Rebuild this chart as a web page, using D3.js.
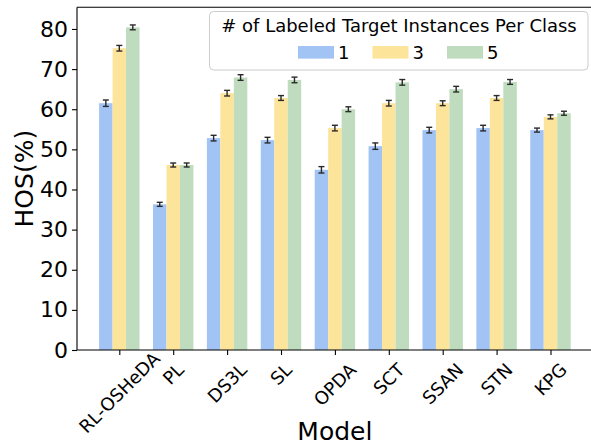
<!DOCTYPE html>
<html>
<head>
<meta charset="utf-8">
<script src="https://cdn.jsdelivr.net/npm/d3@7"></script>
<style>
  html, body { margin: 0; padding: 0; background: #ffffff; }
  svg { display: block; font-family: "DejaVu Sans", sans-serif; }
</style>
</head>
<body>
<svg id="chart" width="591" height="442"></svg>
<script>
// ---- data ----
const models = ["RL-OSHeDA", "PL", "DS3L", "SL", "OPDA", "SCT", "SSAN", "STN", "KPG"];
const seriesNames = ["1", "3", "5"];
const values1 = [61.5, 36.3, 52.8, 52.3, 44.9, 50.8, 54.8, 55.3, 54.8];
const values3 = [75.2, 46.1, 64.0, 62.8, 55.3, 61.5, 61.5, 62.8, 58.1];
const values5 = [80.4, 46.1, 67.9, 67.3, 60.0, 66.7, 65.0, 66.8, 59.0];
const errors1 = [0.8, 0.5, 0.7, 0.7, 0.8, 0.8, 0.7, 0.7, 0.5];
const errors3 = [0.7, 0.5, 0.7, 0.6, 0.7, 0.7, 0.6, 0.6, 0.5];
const errors5 = [0.6, 0.5, 0.7, 0.7, 0.6, 0.7, 0.7, 0.6, 0.5];
const yTicks = [0, 10, 20, 30, 40, 50, 60, 70, 80];
const legendTitle = "# of Labeled Target Instances Per Class";
const xTitle = "Model";
const yTitle = "HOS(%)";

(function () {
const colors = ["#a2c4f5", "#fde49b", "#bfdcbf"];
const seriesValues = [values1, values3, values5];
const seriesErrors = [errors1, errors3, errors5];

// ---- layout ----
const svg = d3.select("#chart");
const mLeft = 77, mRight = 592.8, mTop = 7.3, mBottom = 350;
const barW = 0.25;

const x = d3.scaleLinear().domain([-0.785, models.length - 1 + 0.785]).range([mLeft, mRight]);
const y = d3.scaleLinear().domain([0, 85.4]).range([mBottom, mTop]);

const tickFont = 18;
const yTickFont = 22;

// bars
seriesValues.forEach((vals, s) => {
  const off = (s - 1) * barW;
  const g = svg.append("g");
  g.selectAll("rect").data(vals).join("rect")
    .attr("x", (d, i) => x(i + off - barW / 2))
    .attr("width", (d, i) => x(i + off + barW / 2) - x(i + off - barW / 2))
    .attr("y", d => y(d))
    .attr("height", d => y(0) - y(d))
    .attr("fill", colors[s]);
});

// error bars
seriesValues.forEach((vals, s) => {
  const off = (s - 1) * barW;
  const errs = seriesErrors[s];
  const g = svg.append("g").attr("stroke", "#2a2a2a").attr("stroke-width", 1.4).attr("fill", "none");
  vals.forEach((v, i) => {
    const cx = x(i + off);
    const y1 = y(v - errs[i]), y2 = y(v + errs[i]);
    g.append("line").attr("x1", cx).attr("x2", cx).attr("y1", y1).attr("y2", y2);
    g.append("line").attr("x1", cx - 3).attr("x2", cx + 3).attr("y1", y1).attr("y2", y1);
    g.append("line").attr("x1", cx - 3).attr("x2", cx + 3).attr("y1", y2).attr("y2", y2);
  });
});

// y axis
const yAxis = d3.axisLeft(y).tickValues(yTicks).tickSize(5).tickPadding(4).tickFormat(d3.format("d"));
const gy = svg.append("g").attr("transform", `translate(${mLeft},0)`).call(yAxis);
gy.select(".domain").remove();
gy.selectAll(".tick line").attr("stroke", "#000").attr("stroke-width", 1.1);
gy.selectAll(".tick text").attr("fill", "#000").style("font-size", yTickFont + "px")
  .style("font-family", "DejaVu Sans, sans-serif");

// x axis ticks
const xAxis = d3.axisBottom(x).tickValues(d3.range(models.length)).tickSize(5).tickFormat("");
const gx = svg.append("g").attr("transform", `translate(0,${mBottom})`).call(xAxis);
gx.select(".domain").remove();
gx.selectAll(".tick line").attr("stroke", "#000").attr("stroke-width", 1.1);

// rotated x tick labels (bbox centered at tick, top-aligned, kept inside the figure)
const labelTop = 360;
const labelBottomLimit = 436;
models.forEach((m, i) => {
  const t = svg.append("text")
    .attr("text-anchor", "middle")
    .attr("dominant-baseline", "central")
    .style("font-size", tickFont + "px")
    .attr("fill", "#000")
    .text(m);
  const L = t.node().getComputedTextLength();
  const half = (L + tickFont) * Math.SQRT1_2 / 2;
  const cx = x(i);
  const cy = Math.min(labelTop + half, labelBottomLimit - half);
  t.attr("x", cx).attr("y", cy).attr("transform", `rotate(-45,${cx},${cy})`);
});

// spines
const spines = svg.append("g").attr("stroke", "#000").attr("stroke-width", 1.1);
spines.append("line").attr("x1", mLeft).attr("x2", mLeft).attr("y1", mTop).attr("y2", mBottom);
spines.append("line").attr("x1", mLeft).attr("x2", mRight).attr("y1", mBottom).attr("y2", mBottom);
spines.append("line").attr("x1", mLeft).attr("x2", mRight).attr("y1", mTop).attr("y2", mTop);
spines.append("line").attr("x1", mRight).attr("x2", mRight).attr("y1", mTop).attr("y2", mBottom);

// axis titles
svg.append("text").attr("x", (mLeft + mRight) / 2).attr("y", 440)
  .attr("text-anchor", "middle").style("font-size", "25px").attr("fill", "#000").text(xTitle);
svg.append("text").attr("transform", `translate(33,${(mTop + mBottom) / 2}) rotate(-90)`)
  .attr("text-anchor", "middle").style("font-size", "25px").attr("fill", "#000").text(yTitle);

// legend
const lg = svg.append("g");
lg.append("rect").attr("x", 209.5).attr("y", 11.5).attr("width", 378.5).attr("height", 58.5)
  .attr("rx", 4).attr("fill", "#fff").attr("fill-opacity", 0.8).attr("stroke", "#cccccc").attr("stroke-width", 1);
lg.append("text").attr("x", 399).attr("y", 32).attr("text-anchor", "middle")
  .style("font-size", "18px").attr("fill", "#000").text(legendTitle);
seriesNames.forEach((n, s) => {
  const px = 298 + s * 74.5;
  lg.append("rect").attr("x", px).attr("y", 46).attr("width", 36).attr("height", 12.6).attr("fill", colors[s]);
  lg.append("text").attr("x", px + 40).attr("y", 58.5).style("font-size", "18px").attr("fill", "#000").text(n);
});
})();
</script>
</body>
</html>
